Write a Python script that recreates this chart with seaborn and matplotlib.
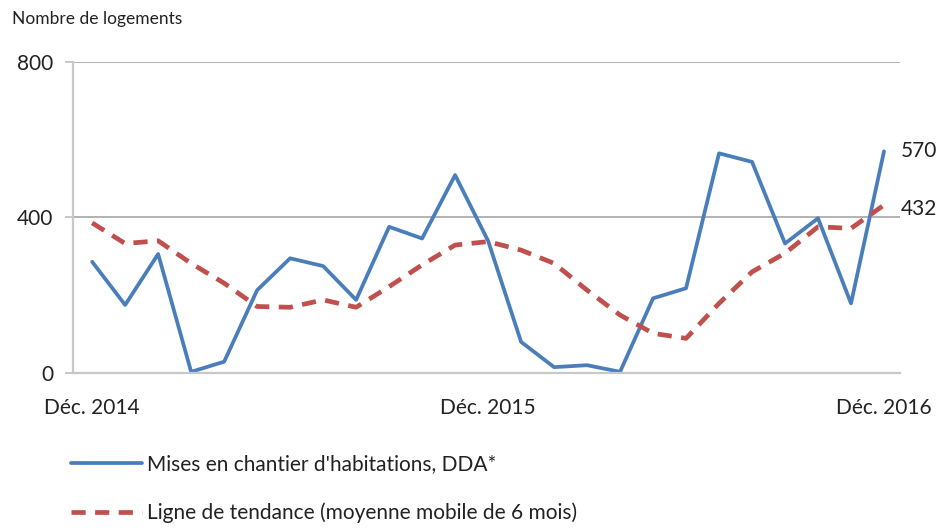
import numpy as np
import pandas as pd
import matplotlib.pyplot as plt
import seaborn as sns

# Mises en chantier, Déc. 2014 -> Déc. 2016 (25 mois)
mois = list(range(25))
mises_en_chantier = [286, 175, 306, 3, 29, 213, 295, 275, 188, 376, 346, 509, 340,
                     80, 15, 20, 3, 192, 218, 565, 543, 333, 398, 179, 570]
tendance = [386, 333, 340, 282, 231, 171, 169, 188, 169, 222, 278, 329, 338,
            316, 282, 213, 149, 102, 89, 179, 260, 308, 376, 372, 432]
tick_pos = [0, 12, 24]
tick_labels = ["Déc. 2014", "Déc. 2015", "Déc. 2016"]
y_ticks = [0, 400, 800]

df = pd.DataFrame({"mois": mois, "mises": mises_en_chantier, "tendance": tendance})

sns.set_style("white")
plt.rcParams["font.family"] = ["Lato", "DejaVu Sans"]

blue = "#4a7ebb"
red = "#c0504d"

fig = plt.figure(figsize=(9.46, 5.31), dpi=100)
ax = fig.add_axes([0.0772, 0.2976, 0.874, 0.5857])

sns.lineplot(data=df, x="mois", y="mises", ax=ax, color=blue, linewidth=2.7,
             label="Mises en chantier d'habitations, DDA*")
sns.lineplot(data=df, x="mois", y="tendance", ax=ax, color=red, linewidth=3.4,
             dashes=False, label="Ligne de tendance (moyenne mobile de 6 mois)")
ax.lines[1].set_linestyle((0, (3, 2)))

ax.set_xlim(-0.58, 24.48)
ax.set_ylim(0, 800)
ax.set_xticks(tick_pos)
ax.set_xticklabels(tick_labels)
ax.set_yticks(y_ticks)
ax.set_xlabel("")
ax.set_ylabel("")

for y in [400, 800]:
    ax.axhline(y, color="#a6a6a6", linewidth=1.2, zorder=0)

for s in ["top", "right"]:
    ax.spines[s].set_visible(False)
ax.spines["left"].set_color("#c8c8c8")
ax.spines["left"].set_linewidth(1.6)
ax.spines["bottom"].set_color("#c8c8c8")
ax.spines["bottom"].set_linewidth(1.6)

ax.tick_params(axis="y", length=6, width=1.4, color="#c8c8c8", labelsize=15,
               labelcolor="#222222", pad=8, left=True)
ax.tick_params(axis="x", length=0, labelsize=15, labelcolor="#222222", pad=18)

# valeurs de fin
ax.annotate("570", (24, 570), xytext=(12, 0), textcoords="offset points",
            va="center", ha="left", fontsize=15, color="#222222",
            annotation_clip=False)
ax.annotate("432", (24, 432), xytext=(12, -3), textcoords="offset points",
            va="center", ha="left", fontsize=15, color="#222222",
            annotation_clip=False)

fig.text(0.013, 0.965, "Nombre de logements", fontsize=12.5, color="#222222",
         va="center", ha="left")

handles, labels = ax.get_legend_handles_labels()
ax.legend_.remove()
fig.legend(handles, labels, loc="upper left", bbox_to_anchor=(0.066, 0.16),
           frameon=False, fontsize=15, handlelength=3.4, handletextpad=0.25,
           labelspacing=1.35, labelcolor="#222222", borderaxespad=0)

fig.savefig("out.png", dpi=100)
